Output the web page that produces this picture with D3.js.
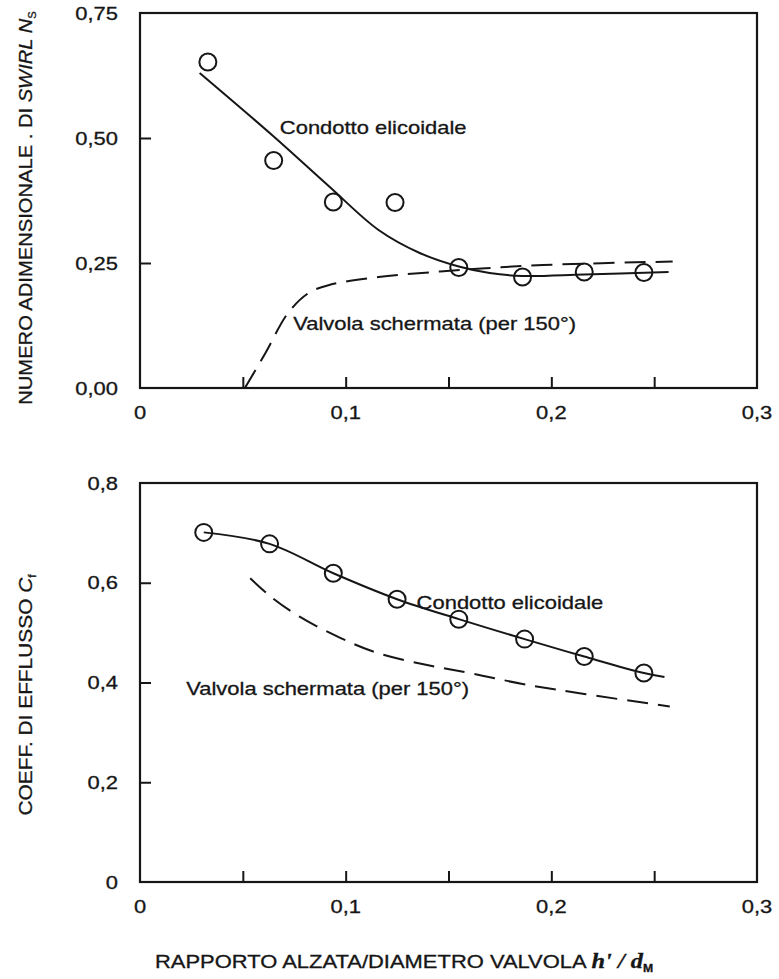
<!DOCTYPE html>
<html>
<head>
<meta charset="utf-8">
<script src="https://cdn.jsdelivr.net/npm/d3@7"></script>
<style>
  html, body { margin: 0; padding: 0; background: #fff; }
  svg { display: block; }
</style>
</head>
<body>
<svg id="chart" width="779" height="979"></svg>
<script>
// Swirl number and flow coefficient vs valve lift/diameter

// --- top panel: swirl number N_s ---
const swirlLift = [0.033, 0.065, 0.094, 0.124, 0.155, 0.186, 0.216, 0.245];
const swirlValue = [0.652, 0.455, 0.372, 0.371, 0.241, 0.222, 0.232, 0.231];

const helicalSwirlLift = [0.029, 0.065, 0.092, 0.116, 0.136, 0.155, 0.170, 0.186, 0.216, 0.257];
const helicalSwirlValue = [0.630, 0.503, 0.403, 0.316, 0.270, 0.243, 0.230, 0.224, 0.227, 0.232];

const shieldSwirlLift = [0.051, 0.061, 0.072, 0.082, 0.092, 0.116, 0.146, 0.166, 0.196, 0.259];
const shieldSwirlValue = [0.000, 0.070, 0.150, 0.190, 0.206, 0.222, 0.233, 0.239, 0.246, 0.253];

// --- bottom panel: flow coefficient C_f ---
const flowLift = [0.031, 0.063, 0.094, 0.125, 0.155, 0.187, 0.216, 0.245];
const flowValue = [0.701, 0.678, 0.619, 0.567, 0.527, 0.487, 0.452, 0.419];

const helicalFlowLift = [0.031, 0.063, 0.094, 0.125, 0.155, 0.187, 0.216, 0.245, 0.255];
const helicalFlowValue = [0.701, 0.678, 0.619, 0.567, 0.527, 0.487, 0.452, 0.419, 0.411];

const shieldFlowLift = [0.0536, 0.0636, 0.0776, 0.0976, 0.1156, 0.1396, 0.1616, 0.186, 0.216, 0.2576];
const shieldFlowValue = [0.609, 0.572, 0.532, 0.489, 0.459, 0.435, 0.418, 0.397, 0.377, 0.352];

// ticks
const xLabelValues = [0, 0.1, 0.2, 0.3];
const xLabelText = ['0', '0,1', '0,2', '0,3'];
const xTickMarks = [0.05, 0.1, 0.15, 0.2, 0.25];

const swirlTickValues = [0, 0.25, 0.5, 0.75];
const swirlTickText = ['0,00', '0,25', '0,50', '0,75'];
const flowTickValues = [0, 0.2, 0.4, 0.6, 0.8];
const flowTickText = ['0', '0,2', '0,4', '0,6', '0,8'];

const curveNames = ['Condotto elicoidale', 'Valvola schermata (per 150°)'];

// layout
const FONT = '"Liberation Sans", Arial, Helvetica, sans-serif';
const SERIF = '"Liberation Serif", "Times New Roman", serif';
const FS = 18;
const STRETCH = 1.22;      // text in the scan is wide
const INK = '#161616';
const LEFT = 140, RIGHT = 757;
const TICK = 11;

const svg = d3.select('#chart');

const x = d3.scaleLinear().domain([0, 0.3]).range([LEFT, RIGHT]);
const yTop = d3.scaleLinear().domain([0, 0.75]).range([388, 13]);
const yBot = d3.scaleLinear().domain([0, 0.8]).range([882, 483]);

// stretched horizontal text, slightly inked like the print
function label(px, py, str, anchor) {
    return svg.append('text')
        .attr('transform', `translate(${px},${py}) scale(${STRETCH},1)`)
        .attr('text-anchor', anchor || 'start')
        .attr('font-family', FONT)
        .attr('font-size', FS)
        .attr('fill', INK)
        .attr('stroke', INK)
        .attr('stroke-width', 0.3)
        .text(str);
}

function drawPanel(y, yVals, yText, yMarks) {
    const bottom = y.range()[0];

    // frame
    svg.append('rect')
        .attr('x', LEFT).attr('y', y.range()[1])
        .attr('width', RIGHT - LEFT).attr('height', bottom - y.range()[1])
        .attr('fill', 'none').attr('stroke', INK).attr('stroke-width', 2.2);

    // inward tick marks
    svg.append('g')
        .attr('transform', `translate(0,${bottom})`)
        .call(d3.axisBottom(x).tickValues(xTickMarks).tickSize(-TICK).tickFormat(''))
        .call(g => g.select('.domain').remove())
        .call(g => g.selectAll('line').attr('stroke', INK).attr('stroke-width', 2));

    svg.append('g')
        .attr('transform', `translate(${LEFT},0)`)
        .call(d3.axisLeft(y).tickValues(yMarks).tickSize(-TICK).tickFormat(''))
        .call(g => g.select('.domain').remove())
        .call(g => g.selectAll('line').attr('stroke', INK).attr('stroke-width', 2));

    // tick labels
    xLabelValues.forEach((v, i) => label(x(v), bottom + 31, xLabelText[i], 'middle'));
    yVals.forEach((v, i) => label(118, y(v) + 6.5, yText[i], 'end'));
}

drawPanel(yTop, swirlTickValues, swirlTickText, [0.25, 0.5]);
drawPanel(yBot, flowTickValues, flowTickText, [0.2, 0.4, 0.6]);

// series
function drawLine(xs, ys, y, dashed) {
    const pts = xs.map((v, i) => [v, ys[i]]);
    svg.append('path')
        .datum(pts)
        .attr('fill', 'none')
        .attr('stroke', INK)
        .attr('stroke-width', 2)
        .attr('stroke-dasharray', dashed ? '21,10' : null)
        .attr('d', d3.line().x(d => x(d[0])).y(d => y(d[1])).curve(d3.curveCatmullRom.alpha(0.5)));
}

function drawCircles(xs, ys, y) {
    svg.append('g').selectAll('circle')
        .data(xs.map((v, i) => [v, ys[i]]))
        .join('circle')
        .attr('cx', d => x(d[0]))
        .attr('cy', d => y(d[1]))
        .attr('r', 8.5)
        .attr('fill', 'none')
        .attr('stroke', INK)
        .attr('stroke-width', 2);
}

drawLine(helicalSwirlLift, helicalSwirlValue, yTop, false);
drawLine(shieldSwirlLift, shieldSwirlValue, yTop, true);
drawCircles(swirlLift, swirlValue, yTop);

drawLine(helicalFlowLift, helicalFlowValue, yBot, false);
drawLine(shieldFlowLift, shieldFlowValue, yBot, true);
drawCircles(flowLift, flowValue, yBot);

// curve names
label(x(0.068), yTop(0.508), curveNames[0]);
label(x(0.0745), yTop(0.117), curveNames[1]);
label(x(0.1345), yBot(0.547), curveNames[0]);
label(x(0.0225), yBot(0.375), curveNames[1]);

// axis titles
const xTitle = svg.append('text')
    .attr('transform', `translate(155,968) scale(${STRETCH},1)`)
    .attr('font-family', FONT)
    .attr('font-size', FS)
    .attr('fill', INK)
    .attr('stroke', INK)
    .attr('stroke-width', 0.3);
xTitle.append('tspan').text('RAPPORTO ALZATA/DIAMETRO VALVOLA ');
xTitle.append('tspan').attr('font-family', SERIF).attr('font-style', 'italic')
    .attr('font-weight', 'bold').attr('font-size', 20).text('h\' / d');
xTitle.append('tspan').attr('font-size', 10).attr('font-weight', 'bold').attr('dy', 4).text('M');

function yTitle(px, py, stretch) {
    return svg.append('text')
        .attr('transform', `translate(${px},${py}) rotate(-90) scale(${stretch},1)`)
        .attr('text-anchor', 'middle')
        .attr('font-family', FONT)
        .attr('font-size', FS)
        .attr('fill', INK)
        .attr('stroke', INK)
        .attr('stroke-width', 0.3);
}

const t1 = yTitle(32, 208, 1.12);
t1.append('tspan').text('NUMERO ADIMENSIONALE . DI ');
t1.append('tspan').attr('font-style', 'italic').text('SWIRL N');
t1.append('tspan').attr('font-size', 10).attr('dy', 4).text('S');

const t2 = yTitle(32, 695, 1.16);
t2.append('tspan').text('COEFF. DI EFFLUSSO ');
t2.append('tspan').attr('font-style', 'italic').text('C');
t2.append('tspan').attr('font-size', 10).attr('dy', 4).text('f');
</script>
</body>
</html>
